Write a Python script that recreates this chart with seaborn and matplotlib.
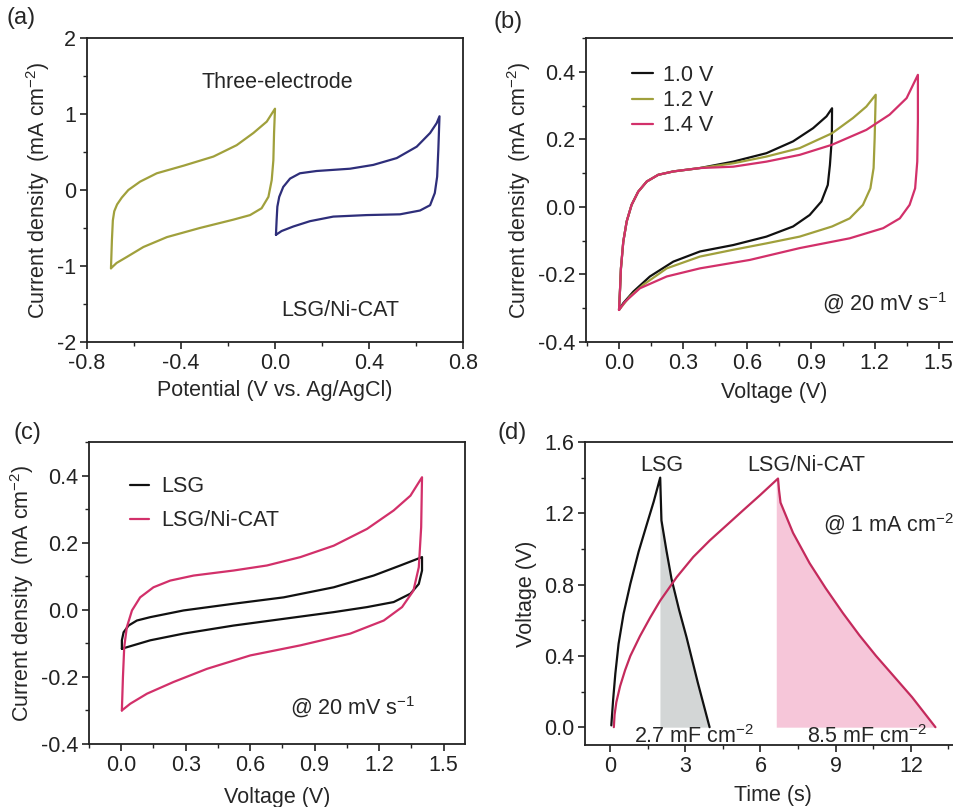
import numpy as np
import pandas as pd
import matplotlib
matplotlib.use("Agg")
import matplotlib.pyplot as plt
from matplotlib.ticker import MultipleLocator, FuncFormatter
import seaborn as sns

# ---------------- data ----------------
# (a) three-electrode CVs: closed loops (forward branch then reverse branch)
a_neg_x = [-0.698, -0.694, -0.690, -0.684, -0.672, -0.652, -0.624, -0.574, -0.503, -0.389, -0.262,
           -0.163, -0.092, -0.035, 0.000,
           -0.004, -0.007, -0.014, -0.028, -0.057, -0.106, -0.177, -0.32, -0.46, -0.56, -0.63,
           -0.674, -0.698]
a_neg_y = [-1.03, -0.66, -0.40, -0.28, -0.19, -0.10, 0.00, 0.11, 0.22, 0.32, 0.44,
           0.59, 0.75, 0.90, 1.07,
           0.75, 0.39, 0.13, -0.09, -0.24, -0.33, -0.39, -0.50, -0.62, -0.75, -0.88,
           -0.96, -1.03]
a_pos_x = [0.004, 0.007, 0.010, 0.018, 0.035, 0.064, 0.106, 0.177, 0.319, 0.418, 0.518, 0.603,
           0.66, 0.688, 0.700,
           0.695, 0.69, 0.68, 0.66, 0.617, 0.532, 0.39, 0.248, 0.149, 0.078, 0.028, 0.004]
a_pos_y = [-0.59, -0.39, -0.22, -0.09, 0.04, 0.15, 0.22, 0.25, 0.28, 0.33, 0.42, 0.57,
           0.75, 0.88, 0.97,
           0.53, 0.175, -0.04, -0.20, -0.27, -0.32, -0.33, -0.35, -0.41, -0.48, -0.54, -0.59]

# (b) CVs at different voltage windows, 20 mV/s
b_labels = ["1.0 V", "1.2 V", "1.4 V"]
b10_x = [0.000, 0.005, 0.009, 0.020, 0.036, 0.059, 0.09, 0.13, 0.184, 0.255, 0.38, 0.536, 0.692,
         0.817, 0.911, 0.974, 1.000,
         0.999, 0.99, 0.98, 0.95, 0.895, 0.817, 0.692, 0.536, 0.38, 0.255, 0.145, 0.067, 0.02, 0.000]
b10_y = [-0.305, -0.241, -0.182, -0.103, -0.043, 0.006, 0.045, 0.075, 0.095, 0.105, 0.115, 0.134, 0.159,
         0.194, 0.233, 0.268, 0.292,
         0.203, 0.124, 0.065, 0.016, -0.024, -0.058, -0.088, -0.113, -0.132, -0.162, -0.206, -0.251,
         -0.285, -0.305]
b12_x = [0.000, 0.005, 0.009, 0.020, 0.036, 0.059, 0.09, 0.13, 0.184, 0.255, 0.38, 0.536, 0.692,
         0.848, 1.000, 1.098, 1.161, 1.205,
         1.200, 1.195, 1.18, 1.145, 1.083, 1.000, 0.848, 0.692, 0.536, 0.38, 0.224, 0.113, 0.05, 0.000]
b12_y = [-0.305, -0.241, -0.182, -0.103, -0.043, 0.006, 0.045, 0.075, 0.095, 0.105, 0.115, 0.129, 0.149,
         0.174, 0.218, 0.263, 0.297, 0.332,
         0.203, 0.115, 0.055, 0.006, -0.034, -0.058, -0.088, -0.108, -0.127, -0.147, -0.182, -0.231,
         -0.266, -0.305]
b14_x = [0.000, 0.005, 0.009, 0.020, 0.036, 0.059, 0.09, 0.13, 0.184, 0.255, 0.38, 0.536, 0.692,
         0.848, 1.000, 1.161, 1.27, 1.35, 1.403,
         1.403, 1.40, 1.39, 1.364, 1.318, 1.24, 1.083, 0.848, 0.614, 0.38, 0.224, 0.098, 0.028, 0.000]
b14_y = [-0.305, -0.241, -0.182, -0.103, -0.043, 0.006, 0.045, 0.075, 0.095, 0.105, 0.115, 0.119, 0.134,
         0.154, 0.184, 0.228, 0.273, 0.322, 0.391,
         0.253, 0.134, 0.055, 0.006, -0.034, -0.063, -0.093, -0.122, -0.157, -0.182, -0.206, -0.241,
         -0.281, -0.305]

# (c) LSG vs LSG/Ni-CAT CVs, 20 mV/s
c_labels = ["LSG", "LSG/Ni-CAT"]
c_lsg_x = [0.003, 0.003, 0.011, 0.034, 0.073, 0.135, 0.29, 0.523, 0.756, 0.989, 1.175, 1.299, 1.400,
           1.400, 1.385, 1.346, 1.268, 1.144, 0.989, 0.756, 0.523, 0.29, 0.135, 0.003]
c_lsg_y = [-0.116, -0.091, -0.067, -0.047, -0.032, -0.022, -0.002, 0.018, 0.037, 0.067, 0.102, 0.132, 0.157,
           0.117, 0.077, 0.048, 0.023, 0.008, -0.007, -0.027, -0.047, -0.071, -0.091, -0.116]
c_cat_x = [0.003, 0.008, 0.014, 0.026, 0.05, 0.088, 0.15, 0.228, 0.337, 0.523, 0.678, 0.834, 0.989,
           1.144, 1.268, 1.346, 1.400,
           1.396, 1.385, 1.36, 1.307, 1.222, 1.066, 0.834, 0.601, 0.399, 0.244, 0.12, 0.042, 0.003]
c_cat_y = [-0.30, -0.20, -0.111, -0.052, -0.002, 0.037, 0.067, 0.087, 0.102, 0.117, 0.132, 0.157, 0.191,
           0.241, 0.296, 0.34, 0.395,
           0.246, 0.127, 0.057, 0.008, -0.032, -0.071, -0.106, -0.136, -0.176, -0.215, -0.25, -0.28, -0.30]

# (d) galvanostatic charge/discharge at 1 mA/cm2
d_lsg_t = [0.05, 0.12, 0.21, 0.34, 0.54, 0.81, 1.14, 1.47, 1.74, 2.00,
           2.02, 2.05, 2.25, 2.45, 2.75, 3.05, 3.50, 3.97]
d_lsg_v = [0.01, 0.15, 0.30, 0.468, 0.637, 0.805, 0.985, 1.14, 1.265, 1.40,
           1.30, 1.16, 0.99, 0.833, 0.66, 0.505, 0.25, 0.00]
d_lsg_dis_t = [1.99, 2.00, 2.02, 2.05, 2.25, 2.45, 2.75, 3.05, 3.50, 3.97]
d_lsg_dis_v = [1.40, 1.40, 1.30, 1.16, 0.99, 0.833, 0.66, 0.505, 0.25, 0.00]
d_cat_t = [0.15, 0.18, 0.25, 0.40, 0.60, 0.81, 1.19, 1.60, 2.00, 2.66, 3.32, 3.98, 4.65, 5.31, 5.97, 6.70,
           6.74, 6.80, 7.30, 7.96, 8.60, 9.29, 9.95, 10.61, 11.12, 12.05, 12.98]
d_cat_v = [0.00, 0.07, 0.14, 0.23, 0.32, 0.40, 0.51, 0.615, 0.71, 0.842, 0.955, 1.048, 1.133, 1.217, 1.30,
           1.395,
           1.33, 1.26, 1.09, 0.92, 0.78, 0.64, 0.515, 0.40, 0.318, 0.168, 0.00]
d_cat_dis_t = [6.63, 6.70, 6.74, 6.80, 7.30, 7.96, 8.60, 9.29, 9.95, 10.61, 11.12, 12.05, 12.98]
d_cat_dis_v = [1.38, 1.395, 1.33, 1.26, 1.09, 0.92, 0.78, 0.64, 0.515, 0.40, 0.318, 0.168, 0.00]
d_areal_caps = ["2.7 mF cm$^{\\mathregular{-2}}$", "8.5 mF cm$^{\\mathregular{-2}}$"]

# ---------------- style ----------------
sns.set_style("ticks")
plt.rcParams["font.family"] = ["Liberation Sans", "DejaVu Sans"]
plt.rcParams["mathtext.fontset"] = "custom"
plt.rcParams["mathtext.rm"] = "Liberation Sans"
plt.rcParams["axes.linewidth"] = 1.3
plt.rcParams["axes.edgecolor"] = "#222222"
FT = 15.5   # tick labels
FL = 15.5   # axis labels
FA = 15.5   # annotations
FP = 17     # panel letters

OLIVE = "#a0a03c"
NAVY = "#2e2e7a"
CRIMSON = "#d2306a"
CRIMSON_D = "#c42a5c"
BLACK = "#111111"

fig = plt.figure(figsize=(9.54, 8.07), dpi=100)
W, H = 954.0, 807.0

def add_ax(left, top, right, bottom):
    return fig.add_axes([left / W, 1 - bottom / H, (right - left) / W, (bottom - top) / H])

axa = add_ax(87, 38, 463, 342)
axb = add_ax(586, 38, 962, 342)
axc = add_ax(89, 442, 465, 744)
axd = add_ax(585, 442, 961, 745)

def loop_df(x, y, name):
    return pd.DataFrame({"x": x, "y": y, "s": name})

def style_ax(ax, xmaj, xmin, ymaj, ymin, xfmt, yfmt):
    ax.xaxis.set_major_locator(MultipleLocator(xmaj))
    ax.xaxis.set_minor_locator(MultipleLocator(xmin))
    ax.yaxis.set_major_locator(MultipleLocator(ymaj))
    ax.yaxis.set_minor_locator(MultipleLocator(ymin))
    ax.xaxis.set_major_formatter(FuncFormatter(lambda v, p: xfmt.format(v + 0.0)))
    ax.yaxis.set_major_formatter(FuncFormatter(lambda v, p: yfmt.format(v + 0.0)))
    ax.tick_params(which="major", direction="out", length=5, width=1.2, labelsize=FT,
                   colors="#222222", pad=3)
    ax.tick_params(which="minor", direction="out", length=3, width=1.0, colors="#222222")
    for s in ax.spines.values():
        s.set_visible(True)

YLAB = "Current density  (mA cm$^{\\mathregular{-2}}$)"
XPAD = 5.5

# ---- (a)
dfa = pd.concat([loop_df(a_neg_x, a_neg_y, "neg"), loop_df(a_pos_x, a_pos_y, "pos")])
sns.lineplot(data=dfa, x="x", y="y", hue="s", palette={"neg": OLIVE, "pos": NAVY},
             sort=False, estimator=None, units="s", lw=1.6, legend=False, ax=axa)
axa.set_xlim(-0.8, 0.8)
axa.set_ylim(-2, 2)
style_ax(axa, 0.4, 0.2, 1, 0.5, "{:.1f}", "{:.0f}")
axa.set_xlabel("Potential (V vs. Ag/AgCl)", fontsize=FL, labelpad=XPAD - 1.5)
axa.set_ylabel(YLAB, fontsize=FL, labelpad=3)
axa.text(0.505, 0.855, "Three-electrode", transform=axa.transAxes, ha="center", va="center", fontsize=FA)
axa.text(0.673, 0.105, "LSG/Ni-CAT", transform=axa.transAxes, ha="center", va="center", fontsize=FA)

# ---- (b)
dfb = pd.concat([loop_df(b10_x, b10_y, b_labels[0]), loop_df(b12_x, b12_y, b_labels[1]),
                 loop_df(b14_x, b14_y, b_labels[2])])
sns.lineplot(data=dfb, x="x", y="y", hue="s",
             palette={b_labels[0]: BLACK, b_labels[1]: OLIVE, b_labels[2]: CRIMSON},
             sort=False, estimator=None, units="s", lw=1.6, ax=axb)
axb.set_xlim(-0.155, 1.61)
axb.set_ylim(-0.4, 0.5)
style_ax(axb, 0.3, 0.15, 0.2, 0.1, "{:.1f}", "{:.1f}")
axb.set_xlabel("Voltage (V)", fontsize=FL, labelpad=XPAD)
axb.set_ylabel(YLAB, fontsize=FL, labelpad=3)
axb.legend(loc="upper left", bbox_to_anchor=(0.10, 0.94), frameon=False, fontsize=FA,
           handlelength=0.95, handletextpad=0.5, labelspacing=0.2, borderaxespad=0)
axb.text(0.96, 0.128, "@ 20 mV s$^{\\mathregular{-1}}$", transform=axb.transAxes,
         ha="right", va="center", fontsize=FA)

# ---- (c)
dfc = pd.concat([loop_df(c_lsg_x, c_lsg_y, c_labels[0]), loop_df(c_cat_x, c_cat_y, c_labels[1])])
sns.lineplot(data=dfc, x="x", y="y", hue="s",
             palette={c_labels[0]: BLACK, c_labels[1]: CRIMSON},
             sort=False, estimator=None, units="s", lw=1.6, ax=axc)
axc.set_xlim(-0.15, 1.6)
axc.set_ylim(-0.4, 0.5)
style_ax(axc, 0.3, 0.15, 0.2, 0.1, "{:.1f}", "{:.1f}")
axc.set_xlabel("Voltage (V)", fontsize=FL, labelpad=XPAD + 2)
axc.set_ylabel(YLAB, fontsize=FL, labelpad=3)
axc.legend(loc="upper left", bbox_to_anchor=(0.085, 0.915), frameon=False, fontsize=FA,
           handlelength=0.9, handletextpad=0.55, labelspacing=0.6, borderaxespad=0)
axc.text(0.702, 0.123, "@ 20 mV s$^{\\mathregular{-1}}$", transform=axc.transAxes,
         ha="center", va="center", fontsize=FA)

# ---- (d)
axd.fill_between(d_lsg_dis_t, 0, d_lsg_dis_v, color="#d3d6d6", lw=0, zorder=1)
axd.fill_between(d_cat_dis_t, 0, d_cat_dis_v, color="#f6c6d9", lw=0, zorder=1)
dfd = pd.concat([loop_df(d_lsg_t, d_lsg_v, "LSG"), loop_df(d_cat_t, d_cat_v, "LSG/Ni-CAT")])
sns.lineplot(data=dfd, x="x", y="y", hue="s",
             palette={"LSG": BLACK, "LSG/Ni-CAT": CRIMSON_D},
             sort=False, estimator=None, units="s", lw=1.6, legend=False, ax=axd, zorder=2)
axd.set_xlim(-1, 14)
axd.set_ylim(-0.1, 1.6)
style_ax(axd, 3, 1.5, 0.4, 0.2, "{:.0f}", "{:.1f}")
axd.set_xlabel("Time (s)", fontsize=FL, labelpad=XPAD)
axd.set_ylabel("Voltage (V)", fontsize=FL, labelpad=5)
axd.text(2.07, 1.47, "LSG", ha="center", va="center", fontsize=FA)
axd.text(7.83, 1.47, "LSG/Ni-CAT", ha="center", va="center", fontsize=FA)
axd.text(8.5, 1.14, "@ 1 mA cm$^{\\mathregular{-2}}$", ha="left", va="center", fontsize=FA)
axd.text(3.35, -0.05, d_areal_caps[0], ha="center", va="center", fontsize=FA, zorder=5)
axd.text(10.25, -0.05, d_areal_caps[1], ha="center", va="center", fontsize=FA, zorder=5)

# panel labels
fig.text(0.007, 0.978, "(a)", fontsize=FP, va="center", ha="left")
fig.text(0.517, 0.973, "(b)", fontsize=FP, va="center", ha="left")
fig.text(0.014, 0.463, "(c)", fontsize=FP, va="center", ha="left")
fig.text(0.522, 0.463, "(d)", fontsize=FP, va="center", ha="left")

fig.savefig("out.png", dpi=100)
